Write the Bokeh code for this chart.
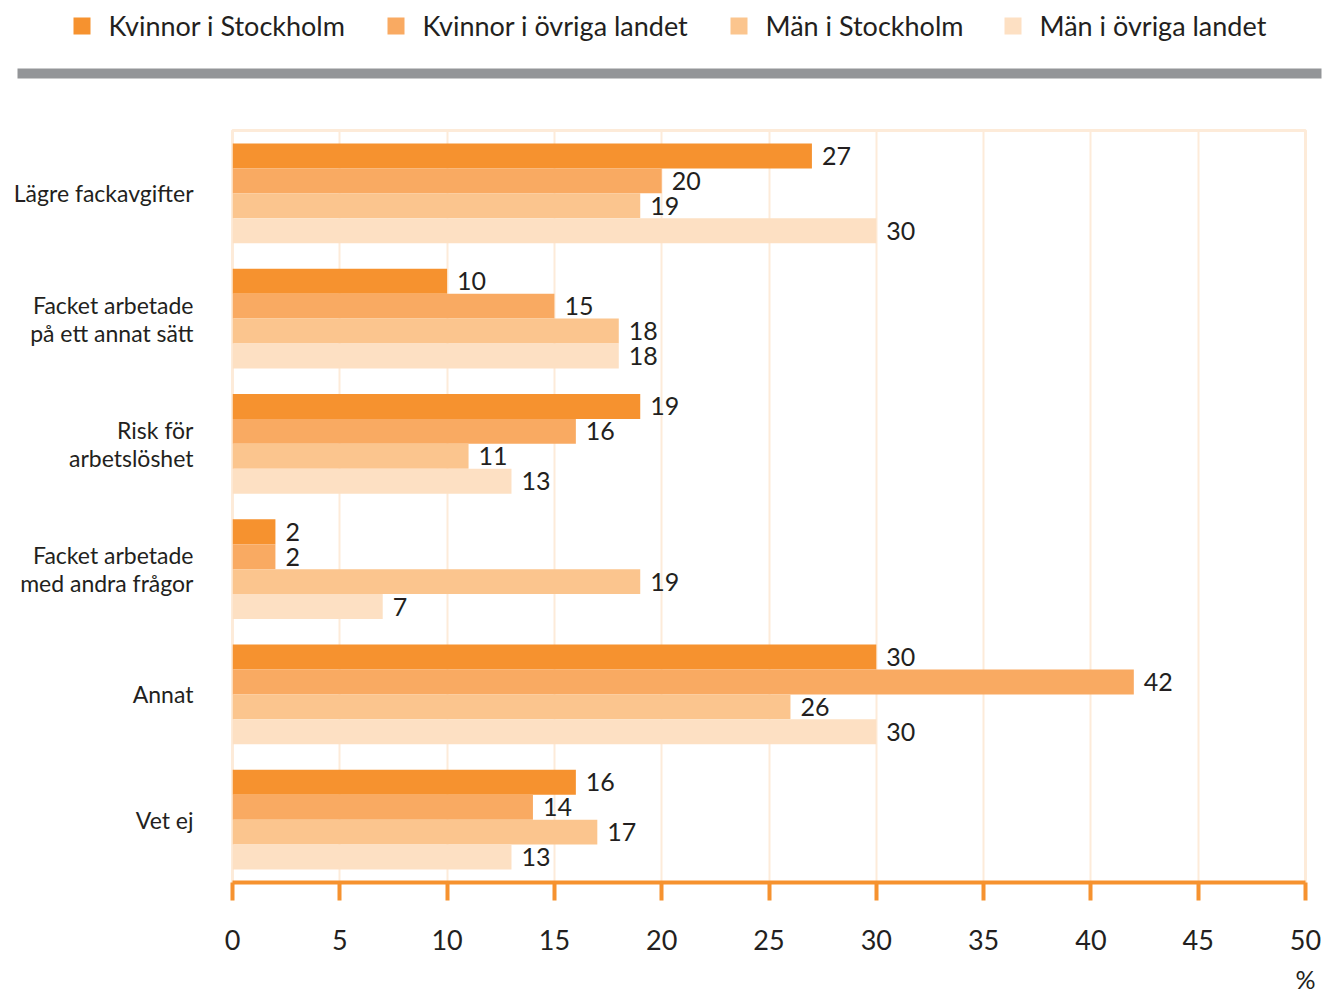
from bokeh.plotting import figure
from bokeh.layouts import column
from bokeh.models import Range1d, FixedTicker, ColumnDataSource
from bokeh.core.properties import value
from bokeh.embed import file_html
from bokeh.resources import INLINE

# ---------------- data ----------------
categories = ["Lägre fackavgifter", "Facket arbetade\npå ett annat sätt", "Risk för\narbetslöshet",
              "Facket arbetade\nmed andra frågor", "Annat", "Vet ej"]
series = ["Kvinnor i Stockholm", "Kvinnor i övriga landet", "Män i Stockholm", "Män i övriga landet"]
kvinnor_sthlm = [27, 10, 19, 2, 30, 16]
kvinnor_ovriga = [20, 15, 16, 2, 42, 14]
man_sthlm = [19, 18, 11, 19, 26, 17]
man_ovriga = [30, 18, 13, 7, 30, 13]
x_ticks = [0, 5, 10, 15, 20, 25, 30, 35, 40, 45, 50]
unit_label = "%"

# ---------------- style ----------------
colors = ["#F6922F", "#F9AA62", "#FBC58E", "#FDE0C3"]
text_color = "#231F20"
grid_color = "#FDEBD9"
axis_color = "#F6922F"
FONT = "Lato"

W = 1327
TOP_H = 100
MAIN_H = 897

# ---------------- top: legend + gray rule ----------------
top = figure(width=W, height=TOP_H, x_range=Range1d(0, W), y_range=Range1d(TOP_H, 0),
             output_backend="svg", toolbar_location=None, min_border=0)
top.frame_align = False
top.axis.visible = False
top.grid.visible = False
top.outline_line_color = None

legend_x = [73, 387, 730, 1004]  # layout positions of swatches
top.rect(x=[lx + 8.5 for lx in legend_x], y=[25.5] * 4, width=17, height=17,
         fill_color=colors, line_color=None)
top.text(x=[lx + 35 for lx in legend_x], y=[25] * 4, text=series,
         text_font=value(FONT), text_font_size="27px", text_color=text_color,
         text_baseline="middle", text_align="left")
top.quad(left=[17], right=[1321], top=[68], bottom=[78], fill_color="#939598", line_color=None)

# ---------------- main chart ----------------
pad = 0.52
gap = 1.02
n_cat = len(categories)
total = 2 * pad + n_cat * 4 + (n_cat - 1) * gap

p = figure(width=W, height=MAIN_H, x_range=Range1d(0, 50), y_range=Range1d(total, 0),
           output_backend="svg", toolbar_location=None,
           min_border_left=232, min_border_right=22, min_border_top=30,
           min_border_bottom=TOP_H + MAIN_H - 882)
p.frame_align = False
p.outline_line_color = grid_color
p.outline_line_width = 3
p.background_fill_color = "white"
p.border_fill_color = "white"

all_series = [kvinnor_sthlm, kvinnor_ovriga, man_sthlm, man_ovriga]
for j, vals in enumerate(all_series):
    ys = [pad + i * (4 + gap) + j + 0.5 for i in range(n_cat)]
    src = ColumnDataSource(dict(y=ys, right=vals, lab=[str(v) for v in vals]))
    p.hbar(y="y", left=0, right="right", height=1.0, source=src,
           fill_color=colors[j], line_color=None)
    p.text(x="right", y="y", text="lab", source=src, x_offset=10,
           text_font=value(FONT), text_font_size="25px", text_color=text_color,
           text_baseline="middle", text_align="left")

# grid
p.ygrid.visible = False
p.xgrid.ticker = FixedTicker(ticks=x_ticks)
p.xgrid.grid_line_color = grid_color
p.xgrid.grid_line_width = 2

# x axis
p.xaxis.ticker = FixedTicker(ticks=x_ticks)
p.xaxis.axis_line_color = axis_color
p.xaxis.axis_line_width = 4
p.xaxis.major_tick_line_color = axis_color
p.xaxis.major_tick_line_width = 4
p.xaxis.major_tick_out = 18
p.xaxis.major_tick_in = 0
p.xaxis.minor_tick_line_color = None
p.xaxis.major_label_standoff = 29
p.xaxis.major_label_text_font = FONT
p.xaxis.major_label_text_font_size = "27px"
p.xaxis.major_label_text_color = text_color
p.xaxis.axis_label = unit_label
p.xaxis.axis_label_align = "end"
p.xaxis.axis_label_standoff = 11
p.xaxis.axis_label_text_font = FONT
p.xaxis.axis_label_text_font_style = "normal"
p.xaxis.axis_label_text_font_size = "25px"
p.xaxis.axis_label_text_color = text_color

# y axis with category labels
centers = [pad + i * (4 + gap) + 2 for i in range(n_cat)]
p.yaxis.ticker = FixedTicker(ticks=centers)
p.yaxis.major_label_overrides = {c: lab for c, lab in zip(centers, categories)}
p.yaxis.axis_line_color = None
p.yaxis.major_tick_line_color = None
p.yaxis.minor_tick_line_color = None
p.yaxis.major_label_standoff = 33
p.yaxis.major_label_text_font = FONT
p.yaxis.major_label_text_font_size = "23px"
p.yaxis.major_label_text_color = text_color
p.yaxis.major_label_text_align = "right"
p.yaxis.major_label_text_line_height = 1.0

layout = column(top, p, spacing=0)
open("out.html", "w").write(file_html(layout, INLINE))
